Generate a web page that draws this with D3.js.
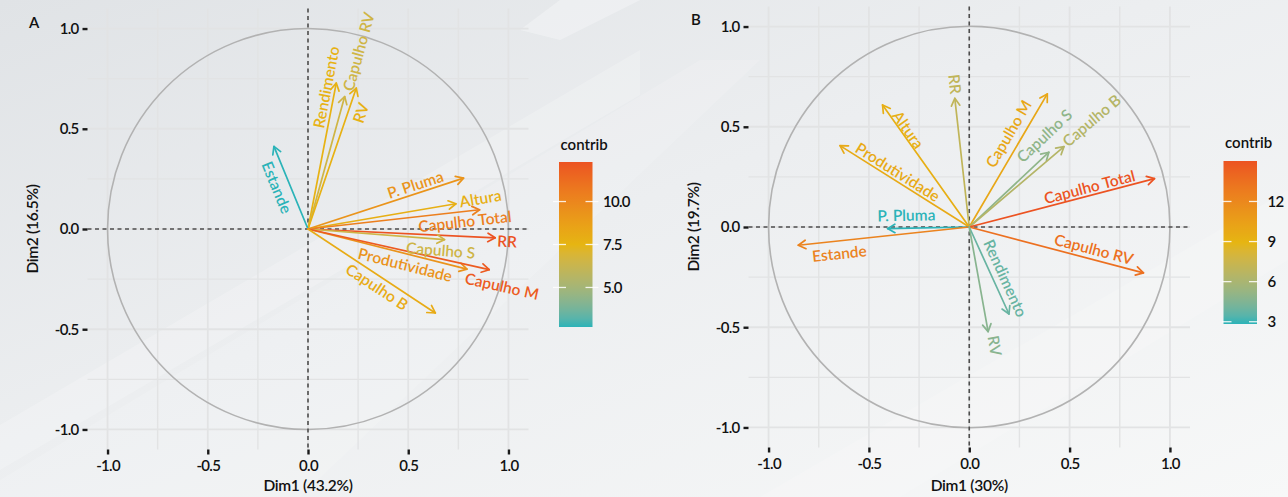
<!DOCTYPE html>
<html>
<head>
<meta charset="utf-8">
<script src="https://cdn.jsdelivr.net/npm/d3@7"></script>
<style>
  html, body { margin: 0; padding: 0; background: #eef0f1; }
  svg { display: block; font-family: Lato, "Noto Sans", sans-serif; font-weight: 600; }
</style>
</head>
<body>
<svg id="chart" width="1288" height="497"></svg>
<script>
// ---------------- data: PCA variable coordinates ----------------
// Panel A
const varsA    = ["Rendimento", "Capulho RV", "RV", "Estande", "P. Pluma", "Altura",
                  "Capulho Total", "RR", "Capulho S", "Produtividade", "Capulho M", "Capulho B"];
const dim1A    = [0.141, 0.183, 0.241, -0.170, 0.776, 0.738, 0.856, 0.934, 0.681, 0.793, 0.904, 0.635];
const dim2A    = [0.728, 0.661, 0.703, 0.412, 0.254, 0.126, 0.096, -0.044, -0.053, -0.200, -0.203, -0.419];
const contribA = [7.68, 6.56, 7.71, 2.70, 9.31, 7.83, 10.36, 12.30, 6.52, 9.34, 11.98, 8.08];
const varA1 = "Dim1 (43.2%)", varA2 = "Dim2 (16.5%)";
const legendTicksA = [5.0, 7.5, 10.0];

// Panel B
const varsB    = ["RR", "Altura", "Produtividade", "P. Pluma", "Estande", "Capulho M",
                  "Capulho S", "Capulho B", "Capulho Total", "Capulho RV", "Rendimento", "RV"];
const dim1B    = [-0.072, -0.432, -0.644, -0.407, -0.852, 0.389, 0.397, 0.472, 0.923, 0.868, 0.198, 0.094];
const dim2B    = [0.642, 0.609, 0.406, -0.008, -0.091, 0.664, 0.373, 0.401, 0.241, -0.229, -0.434, -0.522];
const contribB = [7.00, 9.35, 9.72, 2.83, 12.31, 9.93, 4.98, 6.44, 15.03, 13.51, 3.82, 4.71];
const varB1 = "Dim1 (30%)", varB2 = "Dim2 (19.7%)";
const legendTicksB = [3, 6, 9, 12];

const axisTicks  = [-1.0, -0.5, 0.0, 0.5, 1.0];
const minorTicks = [-0.75, -0.25, 0.25, 0.75];
const gradientColors = ["#2BB3B8", "#E6B512", "#EC5322"];

// ---------------- label placement (px along arrow / px to its left) ----------------
const labelAlongA  = [-6, 47, -22, -39, -48, 25, -16, 12, -3, -61, 16, -63];
const labelNormalA = [9, -1.5, -12.5, 13, 8.7, 1, -10, -3, -11, -11, -13.4, -10.4];
const labelAlongB  = [14, -35, -63, -19, -40, -54, 8, 38, -65, -54, -34, 15];
const labelNormalB = [-1.6, -6.6, -8.4, -13, 12.6, 13.2, 15, 2, 8.3, 10.2, 11.5, 4];

// ---------------- layout ----------------
const panels = [
  { tag: "A", names: varsA, d1: dim1A, d2: dim2A, contrib: contribA, t1: varA1, t2: varA2,
    ltTicks: legendTicksA, ltFmt: d3.format(".1f"), along: labelAlongA, normal: labelNormalA,
    px0: 87.5, px1: 528.5, py0: 8.5, py1: 449.5, tagX: 29, tagY: 28, ytitleX: 38,
    legX: 559, legY0: 162, legY1: 327, legTitleY: 150, legTickIn: 7, legTickOut: 6 },
  { tag: "B", names: varsB, d1: dim1B, d2: dim2B, contrib: contribB, t1: varB1, t2: varB2,
    ltTicks: legendTicksB, ltFmt: d3.format("d"), along: labelAlongB, normal: labelNormalB,
    px0: 748.5, px1: 1190, py0: 6.5, py1: 447.5, tagX: 691, tagY: 25, ytitleX: 699,
    legX: 1223.5, legY0: 161, legY1: 324, legTitleY: 148, legTickIn: 8, legTickOut: 1.5 }
];
const legW = 33.5;
// axis numbers with a plain hyphen for negatives
const fmtTick = d => d3.format(".1f")(d).replace("\u2212", "-");

const svg = d3.select("#chart");
const defs = svg.append("defs");

// ---------------- background ----------------
const bg = defs.append("linearGradient").attr("id", "bg")
  .attr("x1", 0).attr("y1", 0).attr("x2", 1).attr("y2", 1);
bg.append("stop").attr("offset", "0%").attr("stop-color", "#e0e3e6");
bg.append("stop").attr("offset", "45%").attr("stop-color", "#eceef0");
bg.append("stop").attr("offset", "100%").attr("stop-color", "#f7f8f8");
svg.append("rect").attr("width", 1288).attr("height", 497).attr("fill", "url(#bg)");

const streaks = [
  { pts: [[0, 425], [0, 470], [640, 95], [640, 50]], op: 0.2 },
  { pts: [[0, 497], [0, 480], [700, 60], [760, 60], [300, 497]], op: 0.14 },
  { pts: [[520, 30], [560, 0], [640, 0], [560, 40]], op: 0.3 },
  { pts: [[760, 497], [1288, 190], [1288, 260], [900, 497]], op: 0.16 }
];
svg.selectAll("polygon.streak").data(streaks).join("polygon")
  .attr("class", "streak")
  .attr("points", d => d.pts.map(p => p.join(",")).join(" "))
  .attr("fill", "#ffffff").attr("opacity", d => d.op);

// ---------------- panels ----------------
panels.forEach(P => {
  const x = d3.scaleLinear().domain([-1.1, 1.1]).range([P.px0, P.px1]);
  const y = d3.scaleLinear().domain([-1.1, 1.1]).range([P.py1, P.py0]);
  const ext = d3.extent(P.contrib);
  const color = d3.scaleLinear()
    .domain([ext[0], (ext[0] + ext[1]) / 2, ext[1]])
    .range(gradientColors)
    .interpolate(d3.interpolateLab);

  const g = svg.append("g");

  // grid
  const grid = g.append("g");
  grid.selectAll("line.mx").data(minorTicks).join("line")
    .attr("x1", d => x(d)).attr("x2", d => x(d)).attr("y1", P.py0).attr("y2", P.py1)
    .attr("stroke", "#e2e3e4").attr("stroke-width", 1.4);
  grid.selectAll("line.my").data(minorTicks).join("line")
    .attr("y1", d => y(d)).attr("y2", d => y(d)).attr("x1", P.px0).attr("x2", P.px1)
    .attr("stroke", "#e2e3e4").attr("stroke-width", 1.4);
  grid.selectAll("line.Mx").data(axisTicks).join("line")
    .attr("x1", d => x(d)).attr("x2", d => x(d)).attr("y1", P.py0).attr("y2", P.py1)
    .attr("stroke", "#e2e3e4").attr("stroke-width", 1.8);
  grid.selectAll("line.My").data(axisTicks).join("line")
    .attr("y1", d => y(d)).attr("y2", d => y(d)).attr("x1", P.px0).attr("x2", P.px1)
    .attr("stroke", "#e2e3e4").attr("stroke-width", 1.8);

  // correlation circle
  g.append("circle")
    .attr("cx", x(0)).attr("cy", y(0)).attr("r", x(1) - x(0))
    .attr("fill", "none").attr("stroke", "#b2b2b2").attr("stroke-width", 1.6);

  // reference lines
  g.append("line").attr("x1", P.px0).attr("x2", P.px1).attr("y1", y(0)).attr("y2", y(0))
    .attr("stroke", "#4d4d4d").attr("stroke-width", 1.6).attr("stroke-dasharray", "4,3.5");
  g.append("line").attr("y1", P.py0).attr("y2", P.py1).attr("x1", x(0)).attr("x2", x(0))
    .attr("stroke", "#4d4d4d").attr("stroke-width", 1.6).attr("stroke-dasharray", "4,3.5");

  // axes
  const xAxis = d3.axisBottom(x).tickValues(axisTicks).tickFormat(fmtTick)
    .tickSize(5).tickPadding(6);
  const yAxis = d3.axisLeft(y).tickValues(axisTicks).tickFormat(fmtTick)
    .tickSize(5).tickPadding(4);
  const gx = g.append("g").attr("transform", `translate(0,${P.py1})`).call(xAxis);
  const gy = g.append("g").attr("transform", `translate(${P.px0},0)`).call(yAxis);
  [gx, gy].forEach(a => {
    a.select(".domain").remove();
    a.selectAll(".tick line").attr("stroke", "#1a1a1a").attr("stroke-width", 2.4);
    a.selectAll(".tick text").attr("fill", "#111").attr("font-size", 15)
      .attr("font-family", "Lato, sans-serif").attr("font-weight", 600)
      .attr("letter-spacing", "-0.7px");
  });

  // axis titles + tag
  g.append("text").attr("x", x(0)).attr("y", 491).attr("text-anchor", "middle")
    .attr("font-size", 15.5).attr("fill", "#111").attr("letter-spacing", "-0.3px").text(P.t1);
  g.append("text").attr("transform", `translate(${P.ytitleX},${y(0)}) rotate(-90)`)
    .attr("text-anchor", "middle").attr("font-size", 15.5).attr("fill", "#111")
    .attr("letter-spacing", "-0.3px").text(P.t2);
  g.append("text").attr("x", P.tagX).attr("y", P.tagY).attr("font-size", 15)
    .attr("fill", "#111").text(P.tag);

  // arrows
  const rows = P.names.map((n, i) => ({ name: n, v1: P.d1[i], v2: P.d2[i], c: P.contrib[i],
    along: P.along[i], normal: P.normal[i] }));
  const head = 8.5, ha = Math.PI / 6;
  const arr = g.append("g");
  rows.forEach(r => {
    const x0 = x(0), y0 = y(0), tx = x(r.v1), ty = y(r.v2);
    const ang = Math.atan2(ty - y0, tx - x0);
    const col = color(r.c);
    arr.append("line").attr("x1", x0).attr("y1", y0).attr("x2", tx).attr("y2", ty)
      .attr("stroke", col).attr("stroke-width", 1.7).attr("stroke-linecap", "round");
    const p1 = [tx - head * Math.cos(ang - ha), ty - head * Math.sin(ang - ha)];
    const p2 = [tx - head * Math.cos(ang + ha), ty - head * Math.sin(ang + ha)];
    arr.append("path").attr("d", `M${p1[0]},${p1[1]}L${tx},${ty}L${p2[0]},${p2[1]}`)
      .attr("fill", "none").attr("stroke", col).attr("stroke-width", 1.7)
      .attr("stroke-linecap", "round").attr("stroke-linejoin", "round");
  });

  // labels, rotated along their arrows
  rows.forEach(r => {
    const x0 = x(0), y0 = y(0), tx = x(r.v1), ty = y(r.v2);
    const len = Math.hypot(tx - x0, ty - y0);
    const ux = (tx - x0) / len, uy = (ty - y0) / len;
    const nx = uy, ny = -ux;
    const cx = tx + r.along * ux + r.normal * nx;
    const cy = ty + r.along * uy + r.normal * ny;
    let deg = Math.atan2(uy, ux) * 180 / Math.PI;
    if (deg > 90) deg -= 180;
    if (deg < -90) deg += 180;
    arr.append("text")
      .attr("transform", `translate(${cx},${cy}) rotate(${deg})`)
      .attr("text-anchor", "middle").attr("dy", "0.36em")
      .attr("font-size", 15.5).attr("fill", color(r.c))
      .text(r.name);
  });

  // colour bar legend
  const gid = "grad" + P.tag;
  const lg = defs.append("linearGradient").attr("id", gid)
    .attr("x1", 0).attr("y1", 1).attr("x2", 0).attr("y2", 0);
  d3.range(0, 1.0001, 0.05).forEach(t => {
    lg.append("stop").attr("offset", t).attr("stop-color", color(ext[0] + t * (ext[1] - ext[0])));
  });
  const leg = svg.append("g");
  const ly = d3.scaleLinear().domain(ext).range([P.legY1, P.legY0]);
  leg.append("text").attr("x", P.legX + 1.5).attr("y", P.legTitleY).attr("font-size", 15)
    .attr("fill", "#111").text("contrib");
  leg.append("rect").attr("x", P.legX).attr("y", P.legY0).attr("width", legW)
    .attr("height", P.legY1 - P.legY0).attr("fill", `url(#${gid})`);
  P.ltTicks.forEach(t => {
    const yy = ly(t);
    leg.append("line").attr("x1", P.legX - P.legTickOut).attr("x2", P.legX + P.legTickIn)
      .attr("y1", yy).attr("y2", yy).attr("stroke", "#ffffff").attr("stroke-width", 1.3)
      .attr("opacity", 0.85);
    leg.append("line").attr("x1", P.legX + legW - P.legTickIn).attr("x2", P.legX + legW + P.legTickOut)
      .attr("y1", yy).attr("y2", yy).attr("stroke", "#ffffff").attr("stroke-width", 1.3)
      .attr("opacity", 0.85);
    leg.append("text").attr("x", P.legX + legW + 10.5).attr("y", yy).attr("dy", "0.36em")
      .attr("font-size", 15).attr("fill", "#111").attr("letter-spacing", "-0.7px")
      .text(P.ltFmt(t));
  });
});
</script>
</body>
</html>
